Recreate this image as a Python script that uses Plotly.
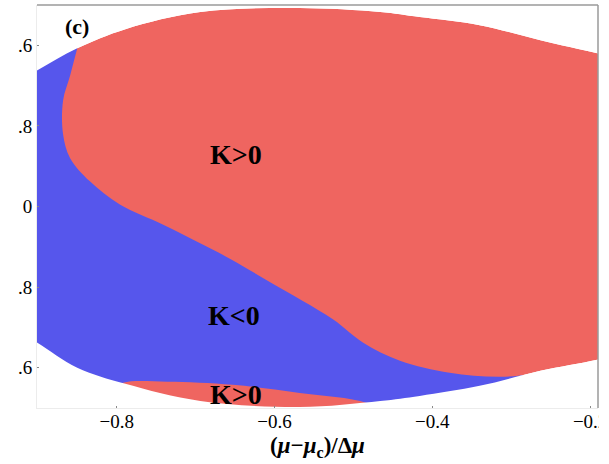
import plotly.graph_objects as go

# Outer boundary of the domain (end points lie just outside the view)
bx = [-0.940, -0.901, -0.850, -0.789, -0.694, -0.568, -0.466, -0.416, -0.340, -0.263, -0.191, -0.150]
y_top = [1.17, 1.35, 1.57, 1.76, 1.93, 1.97, 1.93, 1.88, 1.80, 1.65, 1.52, 1.44]
y_bot = [-1.17, -1.35, -1.60, -1.76, -1.93, -1.99, -1.93, -1.88, -1.78, -1.63, -1.52, -1.44]

# Separatrix between blue (K<0) and red (K>0) regions
sep_x = [-0.844, -0.850, -0.859, -0.868, -0.868, -0.859, -0.834, -0.796, -0.741, -0.698, -0.656,
         -0.606, -0.526, -0.488, -0.441, -0.378, -0.314, -0.244, -0.210]
sep_y = [1.75, 1.57, 1.30, 1.05, 0.72, 0.48, 0.25, 0.02, -0.18, -0.35, -0.52,
         -0.75, -1.12, -1.35, -1.53, -1.65, -1.69, -1.64, -1.62]

# Lower K>0 pocket, upper edge
low_x = [-0.814, -0.792, -0.736, -0.653, -0.568, -0.483, -0.451]
low_y = [-1.85, -1.75, -1.74, -1.77, -1.85, -1.95, -2.10]

x_ticks = [-0.8, -0.6, -0.4, -0.2]
x_ticktext = ["−0.8", "−0.6", "−0.4", "−0.2"]
y_ticks = [1.6, 0.8, 0.0, -0.8, -1.6]
y_ticktext = [".6", ".8", "0", ".8", ".6"]

RED = "#ef6560"
BLUE = "#5656ec"
SPL = dict(width=0, shape="spline", smoothing=1)

fig = go.Figure()

def poly(xs, ys, color):
    fig.add_trace(go.Scatter(x=xs, y=ys, fill="toself", fillcolor=color, mode="lines",
                             line=dict(SPL, color=color), hoverinfo="skip", showlegend=False))

# Red: whole domain
poly(bx + bx[::-1], y_top + y_bot[::-1], RED)

# Blue: left / lower region (extends outside domain, masked later)
poly(sep_x + [-0.210, -0.96, -0.96], sep_y + [-2.8, -2.8, 1.75], BLUE)

# Lower red pocket (extends below domain, masked later)
poly(low_x + [-0.451, -0.814], low_y + [-2.8, -2.8], RED)

# White masks outside the domain
poly(bx + [bx[-1], bx[0]], y_top + [2.8, 2.8], "white")
poly(bx + [bx[-1], bx[0]], y_bot + [-2.8, -2.8], "white")

font_serif = "Liberation Serif, Times New Roman, serif"

annots = [
    dict(x=-0.850, y=1.79, text="<b>(c)</b>", size=22),
    dict(x=-0.649, y=0.52, text="<b>K>0</b>", size=28),
    dict(x=-0.651, y=-1.08, text="<b>K<0</b>", size=28),
    dict(x=-0.649, y=-1.87, text="<b>K>0</b>", size=28),
]
for a in annots:
    fig.add_annotation(x=a["x"], y=a["y"], text=a["text"], showarrow=False,
                       font=dict(family=font_serif, size=a["size"], color="black"),
                       xanchor="center", yanchor="middle")

# Frame lines (top and right darker)
fig.add_shape(type="line", xref="paper", yref="paper", x0=0, x1=1, y0=1, y1=1,
              line=dict(color="#9a9a9a", width=1.5))
fig.add_shape(type="line", xref="paper", yref="paper", x0=1, x1=1, y0=0, y1=1,
              line=dict(color="#9a9a9a", width=1.5))
# The original picture is cropped just right of the frame
fig.add_shape(type="rect", xref="paper", yref="paper", x0=1.0012, x1=1.06, y0=-0.2, y1=-0.004,
              fillcolor="white", line=dict(width=0), layer="above")

fig.update_layout(
    width=609, height=464,
    margin=dict(l=37, r=11, t=5, b=56),
    plot_bgcolor="white", paper_bgcolor="white",
    showlegend=False,
    xaxis=dict(range=[-0.901, -0.19], tickvals=x_ticks, ticktext=x_ticktext,
               showgrid=False, zeroline=False, automargin=False,
               showline=True, linecolor="#ececec", linewidth=1,
               ticks="inside", ticklen=2, tickcolor="#888",
               ticklabeloverflow="allow", ticklabelstandoff=-4,
               tickfont=dict(family=font_serif, size=19, color="black"),
               title=dict(text="<b>(<i>μ</i>−<i>μ</i><sub>c</sub>)/Δ<i>μ</i></b>",
                          font=dict(family=font_serif, size=23, color="black"),
                          standoff=6)),
    yaxis=dict(range=[-2.0, 2.0], tickvals=y_ticks, ticktext=y_ticktext,
               showgrid=False, zeroline=False, automargin=False,
               showline=True, linecolor="#ececec", linewidth=1,
               ticks="inside", ticklen=2, tickcolor="#888",
               tickfont=dict(family=font_serif, size=19, color="black")),
)

fig.write_html("out.html", config={"displayModeBar": False},
               post_script="document.body.style.margin='0';document.body.style.overflow='hidden';")
